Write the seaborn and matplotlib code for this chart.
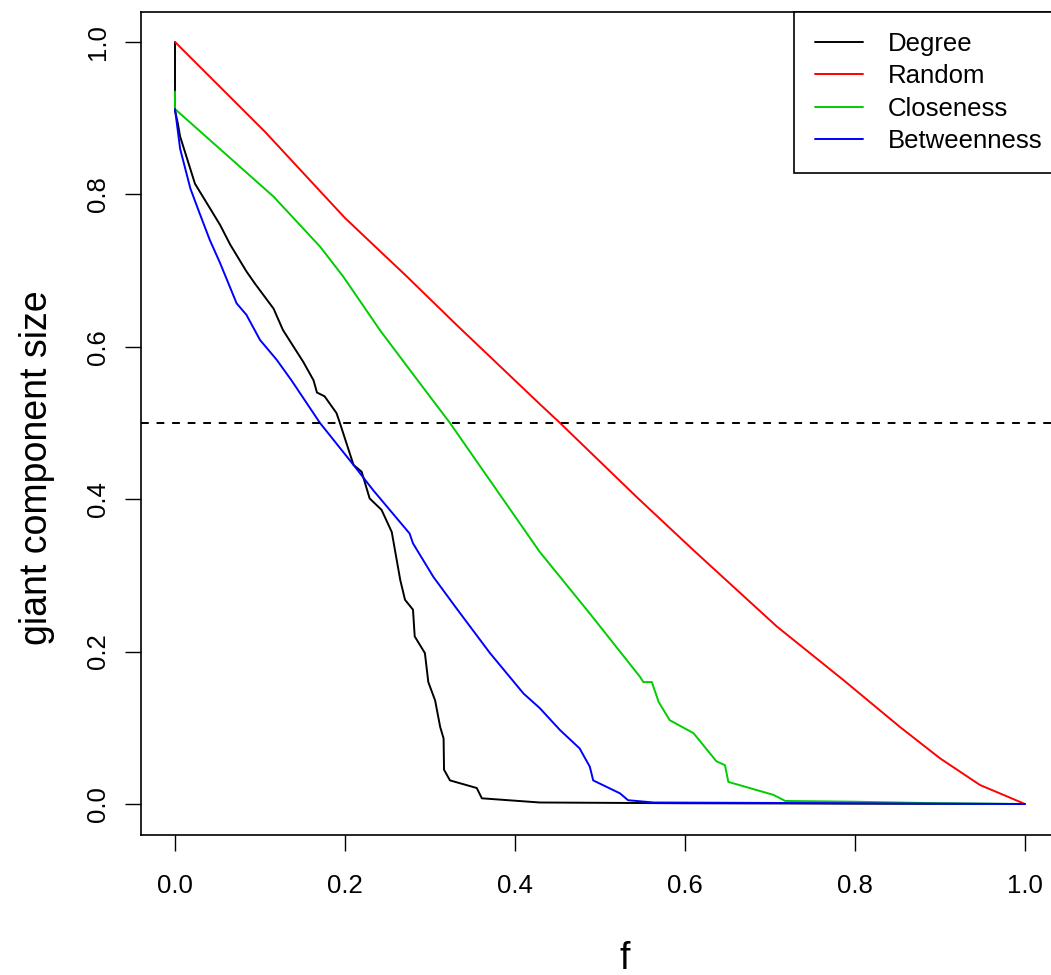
import matplotlib
matplotlib.use("Agg")
import matplotlib.pyplot as plt
import seaborn as sns
import pandas as pd

# ---- data ----
methods = ["Degree", "Random", "Closeness", "Betweenness"]
colors = ["#000000", "#FF0000", "#00CD00", "#0000FF"]

deg_f = [0, 0, 0.003, 0.006, 0.0235, 0.041, 0.053, 0.065, 0.084, 0.094, 0.116,
         0.127, 0.151, 0.163, 0.167, 0.176, 0.190, 0.194, 0.21, 0.2196, 0.229,
         0.243, 0.255, 0.265, 0.2706, 0.280, 0.282, 0.294, 0.298, 0.306, 0.312,
         0.316, 0.3165, 0.3235, 0.355, 0.361, 0.429, 0.6, 0.8, 1.0]
deg_y = [1.0, 0.91, 0.895, 0.876, 0.814, 0.782, 0.760, 0.734, 0.699, 0.683, 0.650,
         0.622, 0.580, 0.556, 0.540, 0.535, 0.513, 0.500, 0.445, 0.436, 0.401,
         0.386, 0.357, 0.294, 0.268, 0.255, 0.220, 0.198, 0.160, 0.136, 0.101,
         0.086, 0.045, 0.031, 0.021, 0.0075, 0.002, 0.001, 0.0005, 0.0]

rnd_f = [0, 0.106, 0.2, 0.273, 0.331, 0.429, 0.453, 0.543, 0.610, 0.708, 0.786,
         0.853, 0.9, 0.947, 1.0]
rnd_y = [1.0, 0.882, 0.769, 0.692, 0.629, 0.525, 0.500, 0.403, 0.333, 0.233, 0.163,
         0.101, 0.060, 0.025, 0.0]

clo_f = [0, 0, 0.116, 0.171, 0.198, 0.241, 0.276, 0.3235, 0.429, 0.488, 0.547,
         0.551, 0.561, 0.569, 0.582, 0.610, 0.637, 0.647, 0.651, 0.704, 0.718,
         0.80, 0.90, 1.0]
clo_y = [0.935, 0.912, 0.797, 0.731, 0.692, 0.622, 0.570, 0.500, 0.331, 0.250, 0.167,
         0.160, 0.160, 0.134, 0.110, 0.093, 0.056, 0.051, 0.029, 0.012, 0.004,
         0.003, 0.001, 0.0]

bet_f = [0, 0.006, 0.018, 0.029, 0.041, 0.053, 0.0725, 0.084, 0.1, 0.1196, 0.137,
         0.143, 0.1706, 0.21, 0.233, 0.276, 0.28, 0.304, 0.331, 0.3706, 0.41,
         0.429, 0.453, 0.476, 0.488, 0.492, 0.5235, 0.533, 0.563, 0.8, 1.0]
bet_y = [0.912, 0.86, 0.808, 0.775, 0.740, 0.71, 0.657, 0.642, 0.609, 0.583, 0.556,
         0.546, 0.500, 0.445, 0.412, 0.355, 0.342, 0.298, 0.257, 0.198, 0.145,
         0.126, 0.097, 0.073, 0.049, 0.031, 0.014, 0.005, 0.002, 0.001, 0.0]

threshold = 0.5
x_ticks = [0.0, 0.2, 0.4, 0.6, 0.8, 1.0]
y_ticks = [0.0, 0.2, 0.4, 0.6, 0.8, 1.0]
x_label = "f"
y_label = "giant component size"

# ---- build long table ----
series = {"Degree": (deg_f, deg_y), "Random": (rnd_f, rnd_y),
          "Closeness": (clo_f, clo_y), "Betweenness": (bet_f, bet_y)}
frames = []
for m in methods:
    fx, fy = series[m]
    frames.append(pd.DataFrame({"f": fx, "size": fy, "method": m}))
df = pd.concat(frames, ignore_index=True)

sns.set_style("ticks")
plt.rcParams["font.family"] = ["Liberation Sans", "DejaVu Sans"]
plt.rcParams["text.color"] = "black"
plt.rcParams["axes.labelcolor"] = "black"

W, H = 1051, 975
fig = plt.figure(figsize=(W / 100, H / 100), dpi=100)
ax = fig.add_axes([141 / W, 1 - 834.5 / H, 918 / W, 823 / H])

palette = dict(zip(methods, colors))
sns.lineplot(data=df, x="f", y="size", hue="method", hue_order=methods,
             palette=palette, sort=False, estimator=None, linewidth=1.4,
             ax=ax, legend=False)
ax.axhline(threshold, color="black", linestyle=(0, (4, 4)), linewidth=1.4)

ax.set_xlim(-0.04, 1.04)
ax.set_ylim(-0.04, 1.04)
ax.set_xticks(x_ticks)
ax.set_xticklabels([f"{v:.1f}" for v in x_ticks])
ax.set_yticks(y_ticks)
ax.set_yticklabels([f"{v:.1f}" for v in y_ticks], rotation=90, va="center")
ax.tick_params(axis="both", direction="out", length=11.5, width=1.0,
               color="black", labelsize=18.5, labelcolor="black")
ax.tick_params(axis="x", pad=17)
ax.tick_params(axis="y", pad=11)
for s in ax.spines.values():
    s.set_color("black")
    s.set_linewidth(1.2)

ax.set_xlabel(x_label, fontsize=27, color="black")
ax.set_ylabel(y_label, fontsize=27, color="black")
ax.xaxis.set_label_coords((625 - 141) / 918, -(941 - 834.5) / 823)
ax.yaxis.set_label_coords((55 - 141) / 918, (834.5 - 468) / 823)

handles = [plt.Line2D([], [], color=c, linewidth=1.4) for c in colors]
leg = ax.legend(handles, methods, loc="upper left",
                bbox_to_anchor=(794 / W, 1 - 11.5 / H),
                bbox_transform=fig.transFigure, borderaxespad=0,
                fontsize=18.5, handlelength=1.87, handletextpad=0.97,
                borderpad=0.8, labelspacing=0.32, frameon=True,
                fancybox=False, framealpha=1, edgecolor="black")
leg.get_frame().set_linewidth(1.2)

fig.savefig("out.png", dpi=100)
